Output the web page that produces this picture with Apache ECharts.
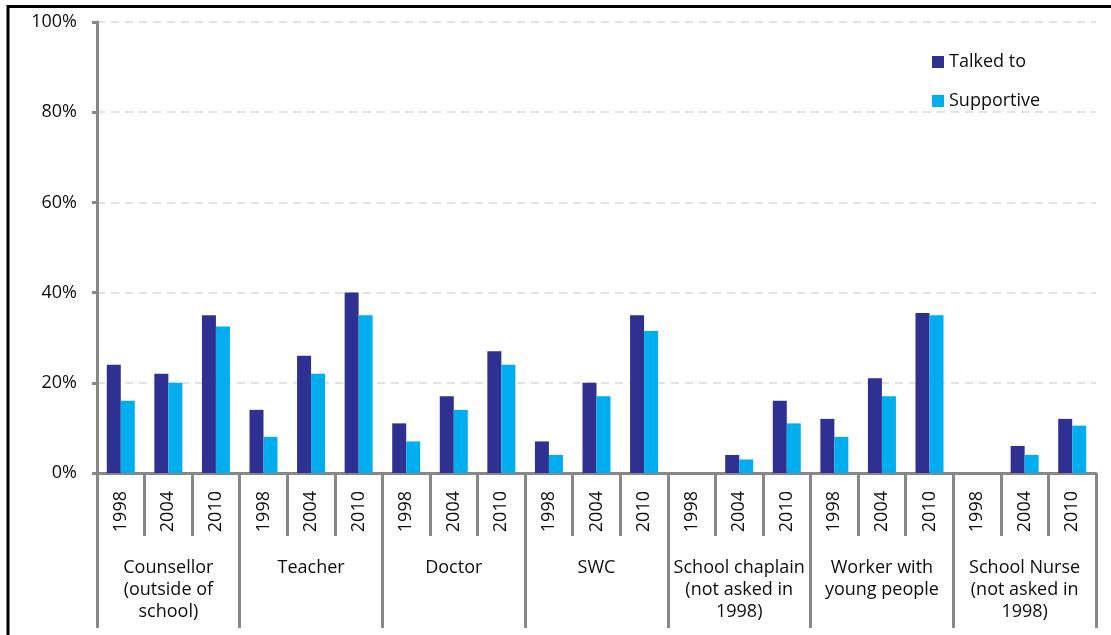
<!DOCTYPE html>
<html>
<head>
<meta charset="utf-8">
<title>Who young people talked to</title>
<script src="https://cdn.jsdelivr.net/npm/echarts@6/dist/echarts.min.js"></script>
<style>
  html, body { margin: 0; padding: 0; background: #fff; }
  #chart { width: 1111px; height: 635px; }
</style>
</head>
<body>
<div id="chart"></div>
<script>
// Survey years shown within each group
const years = ['1998', '2004', '2010'];

// Source of help (group labels under the year ticks)
const groups = [
  'Counsellor\n(outside of\nschool)',
  'Teacher',
  'Doctor',
  'SWC',
  'School chaplain\n(not asked in\n1998)',
  'Worker with\nyoung people',
  'School Nurse\n(not asked in\n1998)'
];

// Percent who talked to each source, per group and year (null = not asked)
const talkedTo = [
  24, 22, 35,
  14, 26, 40,
  11, 17, 27,
  7, 20, 35,
  null, 4, 16,
  12, 21, 35.5,
  null, 6, 12
];

// Percent who found that source supportive
const supportive = [
  16, 20, 32.5,
  8, 22, 35,
  7, 14, 24,
  4, 17, 31.5,
  null, 3, 11,
  8, 17, 35,
  null, 4, 10.5
];

// Y axis range and step (percent)
const yMin = 0, yMax = 100, yStep = 20;

const yearCategories = [];
groups.forEach(() => years.forEach(y => yearCategories.push(y)));

const FONT = '"Open Sans", "Liberation Sans", sans-serif';
const AXIS_GREY = '#878787';
const TEXT = '#0d0d0d';

const chart = echarts.init(document.getElementById('chart'), null, { renderer: 'canvas' });

chart.setOption({
  animation: false,
  backgroundColor: '#ffffff',
  textStyle: { fontFamily: FONT },
  graphic: [{
    type: 'rect',
    z: -10,
    shape: { x: 8, y: 6.5, width: 1200, height: 700 },
    style: { fill: 'none', stroke: '#000000', lineWidth: 3 }
  }],
  legend: {
    orient: 'vertical',
    left: 927,
    top: 47,
    icon: 'rect',
    itemWidth: 12,
    itemHeight: 12,
    itemGap: 19,
    textStyle: { fontFamily: FONT, fontSize: 18, color: TEXT, lineHeight: 20 },
    data: ['Talked to', 'Supportive']
  },
  grid: { left: 97, right: 15, top: 22, bottom: 162, containLabel: false },
  xAxis: [
    {
      type: 'category',
      data: yearCategories,
      position: 'bottom',
      axisLine: { show: true, lineStyle: { color: AXIS_GREY, width: 3 } },
      axisTick: { show: true, interval: 0, length: 63, lineStyle: { color: AXIS_GREY, width: 3 } },
      axisLabel: {
        interval: 0,
        rotate: 90,
        margin: 18,
        fontFamily: FONT,
        fontSize: 18,
        color: TEXT
      },
      splitLine: { show: false }
    },
    {
      type: 'category',
      data: groups,
      position: 'bottom',
      axisLine: { show: false },
      axisTick: { show: true, interval: 0, length: 155, lineStyle: { color: AXIS_GREY, width: 3 } },
      axisLabel: {
        interval: 0,
        margin: 84,
        fontFamily: FONT,
        fontSize: 18,
        lineHeight: 22,
        color: TEXT,
        align: 'center'
      },
      splitLine: { show: false }
    }
  ],
  yAxis: {
    type: 'value',
    min: yMin,
    max: yMax,
    interval: yStep,
    axisLine: { show: true, lineStyle: { color: AXIS_GREY, width: 3 } },
    axisTick: { show: true, length: 5, lineStyle: { color: AXIS_GREY, width: 3 } },
    axisLabel: {
      formatter: '{value}%',
      margin: 20,
      fontFamily: FONT,
      fontSize: 18,
      color: TEXT
    },
    splitLine: {
      show: true,
      lineStyle: { color: '#d9d9d9', width: 1.5, type: [8, 6] }
    }
  },
  series: [
    {
      name: 'Talked to',
      type: 'bar',
      xAxisIndex: 0,
      data: talkedTo,
      barWidth: 14,
      barGap: '0%',
      itemStyle: { color: '#2e3192' }
    },
    {
      name: 'Supportive',
      type: 'bar',
      xAxisIndex: 0,
      data: supportive,
      barWidth: 14,
      barGap: '0%',
      itemStyle: { color: '#00aeef' }
    }
  ]
});
</script>
</body>
</html>
